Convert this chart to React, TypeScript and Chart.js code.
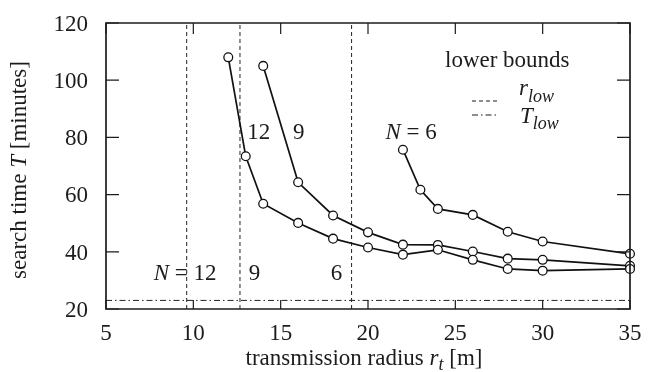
import React, { useEffect, useRef } from "react";
import { Chart, registerables } from "chart.js";

Chart.register(...registerables);

const radiusN12 = [12, 13, 14, 16, 18, 20, 22, 24, 26, 28, 30, 35];
const timeN12 = [108.0, 73.4, 56.8, 50.1, 44.6, 41.5, 39.0, 40.7, 37.2, 34.0, 33.4, 34.0];
const radiusN9 = [14, 16, 18, 20, 22, 24, 26, 28, 30, 35];
const timeN9 = [105.0, 64.3, 52.7, 46.8, 42.5, 42.4, 40.1, 37.6, 37.2, 35.1];
const radiusN6 = [22, 23, 24, 26, 28, 30, 35];
const timeN6 = [75.7, 61.7, 55.0, 52.9, 47.0, 43.6, 39.3];
const rLow = [9.62, 12.67, 19.06];
const tLow = 23.0;
const xTicks = [5, 10, 15, 20, 25, 30, 35];
const yTicks = [20, 40, 60, 80, 100, 120];
const midLabels = [
  { n: "12", x: 13.08, y: 79.4 },
  { n: "9", x: 15.7, y: 79.4 },
  { n: "N = 6", x: 21.0, y: 79.4 },
];
const lowLabels = [
  { n: "N = 12", x: 7.73, y: 30.2 },
  { n: "9", x: 13.17, y: 30.2 },
  { n: "6", x: 17.87, y: 30.2 },
];

const SERIF = "'Liberation Serif', 'DejaVu Serif', serif";
const FS = 23;
const INK = "#1c1c1c";

type Part = { t: string; it?: boolean; sub?: boolean };

function drawMixed(ctx: CanvasRenderingContext2D, parts: Part[], x: number, y: number, align: "center" | "left" | "right", size: number, subSize = 18, subShift = 6.5) {
  const fontFor = (p: Part) => `${p.it ? "italic " : ""}${p.sub ? subSize : size}px ${SERIF}`;
  let total = 0;
  for (const p of parts) { ctx.font = fontFor(p); total += ctx.measureText(p.t).width; }
  let cx = align === "center" ? x - total / 2 : align === "right" ? x - total : x;
  ctx.textAlign = "left";
  ctx.textBaseline = "alphabetic";
  for (const p of parts) {
    ctx.font = fontFor(p);
    ctx.fillText(p.t, cx, p.sub ? y + subShift : y);
    cx += ctx.measureText(p.t).width;
  }
}

function nParts(s: string): Part[] {
  if (s.startsWith("N")) return [{ t: "N", it: true }, { t: s.slice(1) }];
  return [{ t: s }];
}

const framePlugin = {
  id: "customFrame",
  afterDraw(chart: any) {
    const ctx: CanvasRenderingContext2D = chart.ctx;
    const a = chart.chartArea;
    const xs = chart.scales.x, ys = chart.scales.y;
    ctx.save();
    ctx.setLineDash([]);
    ctx.strokeStyle = INK;
    ctx.lineWidth = 1.7;
    ctx.beginPath();
    ctx.moveTo(a.left, a.top);
    ctx.lineTo(a.right, a.top);
    ctx.lineTo(a.right, a.bottom);
    ctx.lineTo(a.left, a.bottom);
    ctx.closePath();
    ctx.stroke();
    ctx.lineWidth = 1.2;
    ctx.beginPath();
    for (const v of xTicks) {
      const px = xs.getPixelForValue(v);
      ctx.moveTo(px, a.bottom); ctx.lineTo(px, a.bottom - 9);
      ctx.moveTo(px, a.top); ctx.lineTo(px, a.top + 11);
    }
    for (const v of yTicks) {
      const py = ys.getPixelForValue(v);
      ctx.moveTo(a.left, py); ctx.lineTo(a.left + 13, py);
      ctx.moveTo(a.right, py); ctx.lineTo(a.right - 13, py);
    }
    ctx.stroke();

    ctx.fillStyle = INK;
    for (const v of xTicks) {
      drawMixed(ctx, [{ t: String(v) }], xs.getPixelForValue(v), 340, "center", FS);
    }
    for (const v of yTicks) {
      drawMixed(ctx, [{ t: String(v) }], 88, ys.getPixelForValue(v) + 7.8, "right", FS);
    }
    for (const l of midLabels) {
      drawMixed(ctx, nParts(l.n), xs.getPixelForValue(l.x), ys.getPixelForValue(l.y), "left", FS);
    }
    for (const l of lowLabels) {
      drawMixed(ctx, nParts(l.n), xs.getPixelForValue(l.x), ys.getPixelForValue(l.y), "left", FS);
    }
    drawMixed(ctx, [{ t: "transmission radius " }, { t: "r", it: true }, { t: "t", it: true, sub: true }, { t: " [m]" }], 364, 365, "center", FS, 18, 5);
    ctx.save();
    ctx.translate(26, 170);
    ctx.rotate(-Math.PI / 2);
    drawMixed(ctx, [{ t: "search time " }, { t: "T", it: true }, { t: " [minutes]" }], 0, 0, "center", FS);
    ctx.restore();
    drawMixed(ctx, [{ t: "lower bounds" }], 445, 66.5, "left", FS);
    ctx.lineWidth = 1;
    ctx.setLineDash([4, 3]);
    ctx.beginPath(); ctx.moveTo(472, 101); ctx.lineTo(498, 101); ctx.stroke();
    ctx.setLineDash([6, 3, 1.5, 3]);
    ctx.beginPath(); ctx.moveTo(472, 115); ctx.lineTo(498, 115); ctx.stroke();
    ctx.setLineDash([]);
    drawMixed(ctx, [{ t: "r", it: true }, { t: "low", it: true, sub: true }], 519, 95, "left", FS);
    drawMixed(ctx, [{ t: "T", it: true }, { t: "low", it: true, sub: true }], 520, 122.7, "left", FS);
    ctx.restore();
  },
};

export default function App() {
  const ref = useRef<HTMLCanvasElement | null>(null);
  useEffect(() => {
    if (!ref.current) return;
    const series = (xs: number[], ys: number[]) => ({
      data: xs.map((x, i) => ({ x, y: ys[i] })),
      borderColor: "#111",
      borderWidth: 1.7,
      pointRadius: 4.4,
      pointBackgroundColor: "#fff",
      pointBorderColor: "#111",
      pointBorderWidth: 1.3,
      showLine: true,
      clip: false,
      order: 0,
    });
    const vlines = rLow.map((r) => ({
      data: [{ x: r, y: 20 }, { x: r, y: 120 }],
      borderColor: "#222",
      borderWidth: 1,
      borderDash: [4, 3],
      pointRadius: 0,
      showLine: true,
      order: 1,
    }));
    const hline = {
      data: [{ x: 5, y: tLow }, { x: 35, y: tLow }],
      borderColor: "#222",
      borderWidth: 1,
      borderDash: [6, 3, 1.5, 3],
      pointRadius: 0,
      showLine: true,
      order: 1,
    };
    const chart = new Chart(ref.current, {
      type: "scatter",
      data: {
        datasets: [...vlines, hline, series(radiusN12, timeN12), series(radiusN9, timeN9), series(radiusN6, timeN6)] as any,
      },
      options: {
        animation: false,
        responsive: false,
        maintainAspectRatio: false,
        layout: { padding: { top: 23, right: 25, left: 0, bottom: 0 } },
        plugins: { legend: { display: false }, tooltip: { enabled: false } },
        scales: {
          x: {
            type: "linear",
            min: 5,
            max: 35,
            afterBuildTicks: (s: any) => { s.ticks = xTicks.map((v) => ({ value: v })); },
            afterFit: (s: any) => { s.height = 63; },
            grid: { display: false },
            border: { display: false },
            ticks: { display: false },
          },
          y: {
            type: "linear",
            min: 20,
            max: 120,
            afterBuildTicks: (s: any) => { s.ticks = yTicks.map((v) => ({ value: v })); },
            afterFit: (s: any) => { s.width = 106; },
            grid: { display: false },
            border: { display: false },
            ticks: { display: false },
          },
        },
      },
      plugins: [framePlugin],
    });
    return () => chart.destroy();
  }, []);
  return (
    <div style={{ position: "fixed", left: 0, top: 0, width: 655, height: 372, background: "#fff" }}>
      <canvas ref={ref} width={655} height={372} style={{ display: "block" }} />
    </div>
  );
}
